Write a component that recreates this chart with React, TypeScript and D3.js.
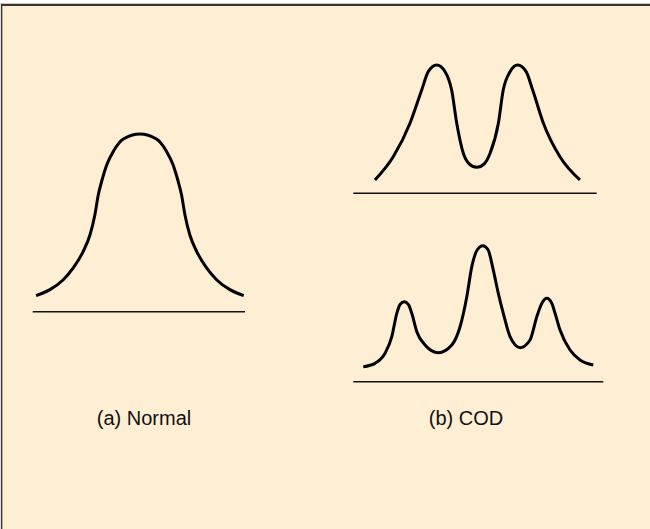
import React from "react";
import * as d3 from "d3";

// (a) Normal — x in 0..100 along baseline, y as % of peak height
const normalX = [1.6, 8.1, 14.4, 19.1, 23.8, 27.0, 29.3, 30.9, 32.5, 34.9, 38.0, 42.7, 50.5, 58.3, 63.0, 66.1, 68.5, 70.1, 71.7, 74.0, 77.2, 81.9, 86.6, 92.9, 99.4];
const normalY = [9.0, 12.4, 18.0, 24.6, 34.0, 43.3, 54.6, 65.8, 73.4, 82.7, 90.3, 97.2, 100, 97.2, 90.3, 82.7, 73.4, 65.8, 54.6, 43.3, 34.0, 24.6, 18.0, 12.4, 9.0];

// (b) COD — bimodal
const bimodalX = [8.9, 16.4, 23.3, 28.1, 30.8, 34.3, 37.7, 40.4, 42.5, 45.2, 47.6, 50.7, 53.8, 56.2, 59.6, 61.6, 64.4, 67.5, 71.0, 73.7, 78.1, 84.9, 93.1];
const bimodalY = [10.4, 28.5, 54.6, 80.5, 94.8, 100, 94.8, 80.5, 54.6, 31.2, 23.0, 20.3, 23.0, 31.2, 54.6, 80.5, 94.8, 100, 94.8, 80.5, 54.6, 28.5, 10.4];

// (b) COD — trimodal
const trimodalX = [4.0, 8.7, 12.7, 15.4, 17.4, 18.7, 20.4, 22.0, 23.4, 25.4, 28.7, 34.0, 39.4, 42.7, 45.4, 47.4, 49.6, 51.8, 53.9, 56.0, 58.0, 60.0, 62.7, 66.7, 70.7, 73.4, 75.4, 77.4, 79.4, 80.7, 82.7, 86.7, 90.7, 96.0];
const trimodalY = [11.0, 13.5, 20.9, 33.1, 50.3, 56.8, 58.8, 56.8, 50.3, 36.8, 27.0, 21.3, 27.0, 40.4, 62.5, 84.6, 97.0, 100, 97.0, 82.1, 65.0, 50.3, 33.1, 25.0, 30.7, 47.8, 57.6, 61.3, 57.6, 50.3, 38.0, 23.3, 16.0, 12.3];

const labels = ["(a) Normal", "(b) COD"];

type Panel = {
  xs: number[];
  ys: number[];
  x0: number;
  x1: number;
  base: number;
  top: number;
};

const panels: Panel[] = [
  { xs: normalX, ys: normalY, x0: 32.7, x1: 245, base: 311.7, top: 134 },
  { xs: bimodalX, ys: bimodalY, x0: 353.3, x1: 596.7, base: 193.3, top: 65 },
  { xs: trimodalX, ys: trimodalY, x0: 353.3, x1: 603.3, base: 381.7, top: 245.7 },
];

export default function App() {
  const W = 650;
  const H = 529;
  return (
    <svg
      width={W}
      height={H}
      style={{ position: "absolute", left: 0, top: 0, display: "block" }}
    >
      <rect x={0} y={0} width={W} height={H} fill="#ffffff" />
      <rect x={1} y={4} width={W - 1} height={H - 4} fill="#FEEFD4" />
      <line x1={0} x2={W} y1={3.5} y2={3.5} stroke="#c8c8c8" strokeWidth={1} />
      <line x1={1} x2={W} y1={5} y2={5} stroke="#3a3430" strokeWidth={2} />
      <line x1={1.6} x2={1.6} y1={4} y2={H} stroke="#3a3430" strokeWidth={1.5} />
      {panels.map((p, i) => {
        const xScale = d3.scaleLinear().domain([0, 100]).range([p.x0, p.x1]);
        const yScale = d3.scaleLinear().domain([0, 100]).range([p.base, p.top]);
        const pts: [number, number][] = p.xs.map((x, k) => [x, p.ys[k]]);
        const line = d3
          .line<[number, number]>()
          .x((d) => xScale(d[0]))
          .y((d) => yScale(d[1]))
          .curve(d3.curveMonotoneX);
        return (
          <g key={i}>
            <line
              x1={xScale(0)}
              x2={xScale(100)}
              y1={yScale(0)}
              y2={yScale(0)}
              stroke="#111"
              strokeWidth={1.5}
            />
            <path
              d={line(pts) || ""}
              fill="none"
              stroke="#000"
              strokeWidth={3}
              strokeLinejoin="round"
              strokeLinecap="butt"
            />
          </g>
        );
      })}
      <text
        x={144}
        y={425}
        textAnchor="middle"
        fontFamily="Liberation Sans, Arial, sans-serif"
        fontSize={20}
        fill="#111"
      >
        {labels[0]}
      </text>
      <text
        x={466}
        y={425}
        textAnchor="middle"
        fontFamily="Liberation Sans, Arial, sans-serif"
        fontSize={20}
        fill="#111"
      >
        {labels[1]}
      </text>
    </svg>
  );
}
